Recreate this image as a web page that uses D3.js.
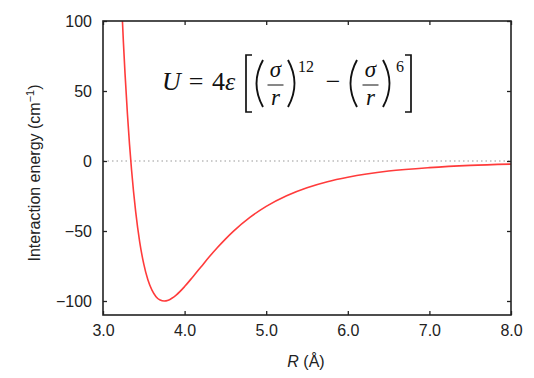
<!DOCTYPE html>
<html>
<head>
<meta charset="utf-8">
<script src="https://cdn.jsdelivr.net/npm/d3@7"></script>
<style>
  body { margin: 0; background: #fff; }
  text { font-family: "Liberation Sans", Arial, sans-serif; fill: #222; }
  .math { font-family: "Liberation Serif", "Times New Roman", serif; font-style: italic; fill: #111; }
  .num { font-family: "Liberation Serif", serif; font-style: normal; fill: #111; }
</style>
</head>
<body>
<div id="chart"></div>
<script>
"use strict";

// == DATA ==
var radius = [3.22, 3.25, 3.27, 3.30, 3.325, 3.35, 3.40, 3.45, 3.50, 3.55, 3.60, 3.65, 3.70, 3.75,
              3.80, 3.90, 4.00, 4.10, 4.20, 4.30, 4.40, 4.50, 4.60, 4.80, 5.00, 5.25, 5.50,
              5.75, 6.00, 6.50, 7.00, 7.50, 8.00];
var energy = [123.4, 84.9, 62.4, 33.0, 11.9, -6.4, -36.0, -57.9, -73.7, -84.9, -92.3, -96.9, -99.3, -100.0,
              -99.4, -95.6, -89.7, -82.8, -75.7, -68.6, -62.0, -55.8, -50.1, -40.3, -32.4, -24.8, -19.1,
              -14.8, -11.6, -7.2, -4.7, -3.1, -2.2];
var xTicks = [3, 4, 5, 6, 7, 8];
var yTicks = [-100, -50, 0, 50, 100];

// == BOILERPLATE ==
var W = 534, H = 378;
var margin = { top: 21, right: 23, bottom: 63, left: 103 },
    width = W - margin.left - margin.right,
    height = H - margin.top - margin.bottom;

var root = d3.select("#chart")
          .append("svg")
          .attr("width", W)
          .attr("height", H);

var svg = root.append("g")
          .attr("transform", "translate(" + margin.left + "," + margin.top + ")");

var x = d3.scaleLinear().domain([3, 8]).range([0, width]);
var y = d3.scaleLinear().domain([-110, 100]).range([height, 0]);

// zero line
svg.append("line")
   .attr("x1", 0).attr("x2", width)
   .attr("y1", y(0)).attr("y2", y(0))
   .attr("stroke", "#999")
   .attr("stroke-width", 1.2)
   .attr("stroke-dasharray", "1.5,3");

// curve
svg.append("clipPath").attr("id", "clip")
   .append("rect").attr("width", width).attr("height", height);

var pts = radius.map(function (r, i) { return [r, energy[i]]; });
var line = d3.line()
   .x(function (d) { return x(d[0]); })
   .y(function (d) { return y(d[1]); })
   .curve(d3.curveMonotoneX);

svg.append("path")
   .datum(pts)
   .attr("clip-path", "url(#clip)")
   .attr("d", line)
   .attr("fill", "none")
   .attr("stroke", "#ff3b3b")
   .attr("stroke-width", 1.6);

// axes (ticks inside, mirrored)
function styleAxis(g) {
  g.select(".domain").remove();
  g.selectAll(".tick line").attr("stroke", "#222").attr("stroke-width", 1.3);
  g.selectAll("text").attr("font-size", 16).attr("fill", "#222")
   .attr("font-family", "Liberation Sans, Arial, sans-serif");
}

svg.append("g")
   .attr("transform", "translate(0," + height + ")")
   .call(d3.axisBottom(x).tickValues(xTicks).tickFormat(d3.format(".1f")).tickSizeInner(-4).tickPadding(10))
   .call(styleAxis);
svg.append("g")
   .call(d3.axisTop(x).tickValues(xTicks).tickSizeInner(-4).tickFormat(""))
   .call(styleAxis);
svg.append("g")
   .call(d3.axisLeft(y).tickValues(yTicks).tickFormat(d3.format("d")).tickSizeInner(-4).tickPadding(11))
   .call(styleAxis);
svg.append("g")
   .attr("transform", "translate(" + width + ",0)")
   .call(d3.axisRight(y).tickValues(yTicks).tickSizeInner(-4).tickFormat(""))
   .call(styleAxis);

svg.selectAll(".tick text").text(function () {
  return d3.select(this).text().replace("-", "\u2212");
});

// frame
svg.append("rect")
   .attr("width", width).attr("height", height)
   .attr("fill", "none").attr("stroke", "#222").attr("stroke-width", 1.6);

// axis titles
var xt = root.append("text")
   .attr("x", 306).attr("y", 367)
   .attr("text-anchor", "middle")
   .attr("font-size", 16);
xt.append("tspan").attr("font-style", "italic").text("R");
xt.append("tspan").text(" (Å)");

var yt = root.append("text")
   .attr("transform", "translate(40,173) rotate(-90)")
   .attr("text-anchor", "middle")
   .attr("font-size", 16);
yt.append("tspan").text("Interaction energy (cm");
yt.append("tspan").attr("font-size", 11).attr("dy", -6).text("\u22121");
yt.append("tspan").attr("dy", 6).text(")");

// == EQUATION ==
var eq = root.append("g");
var base = 90, fs = 26;

eq.append("text").attr("class", "math").attr("x", 162).attr("y", base).attr("font-size", fs).text("U");
eq.append("text").attr("class", "num").attr("x", 196).attr("y", base).attr("text-anchor", "middle")
  .attr("font-size", fs).text("=");
eq.append("text").attr("class", "num").attr("x", 212).attr("y", base).attr("font-size", fs).text("4");
eq.append("text").attr("class", "math").attr("x", 225).attr("y", base).attr("font-size", fs).text("ε");

function bracket(xp, dir) {
  var t = 55, b = 112, w = 6 * dir;
  eq.append("path")
    .attr("d", "M" + (xp + w) + "," + t + "H" + xp + "V" + b + "H" + (xp + w))
    .attr("fill", "none").attr("stroke", "#111").attr("stroke-width", 1.7);
}
function paren(xp, dir) {
  var t = 60, b = 107, bulge = -13 * dir;
  eq.append("path")
    .attr("d", "M" + xp + "," + t + "Q" + (xp + bulge) + "," + ((t + b) / 2) + " " + xp + "," + b)
    .attr("fill", "none").attr("stroke", "#111").attr("stroke-width", 1.9);
}
function frac(cx) {
  eq.append("text").attr("class", "math").attr("x", cx).attr("y", 77).attr("text-anchor", "middle")
    .attr("font-size", 23).text("σ");
  eq.append("line").attr("x1", cx - 8).attr("x2", cx + 8).attr("y1", 85).attr("y2", 85)
    .attr("stroke", "#111").attr("stroke-width", 1);
  eq.append("text").attr("class", "math").attr("x", cx).attr("y", 105).attr("text-anchor", "middle")
    .attr("font-size", 23).text("r");
}

bracket(246, 1);
paren(263, 1);
frac(275.5);
paren(288, -1);
eq.append("text").attr("class", "num").attr("x", 298).attr("y", 72).attr("font-size", 16).text("12");
eq.append("text").attr("class", "num").attr("x", 333).attr("y", base).attr("text-anchor", "middle")
  .attr("font-size", fs).text("\u2212");
paren(357, 1);
frac(370.5);
paren(383, -1);
eq.append("text").attr("class", "num").attr("x", 396).attr("y", 72).attr("font-size", 16).text("6");
bracket(411, -1);
</script>
</body>
</html>
